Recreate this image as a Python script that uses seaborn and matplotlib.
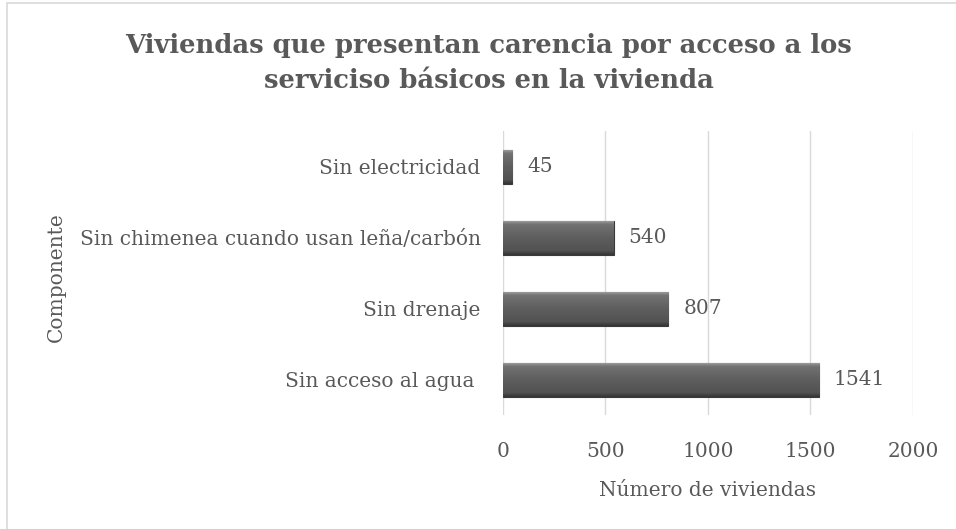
import numpy as np
import pandas as pd
import matplotlib
matplotlib.use("Agg")
import matplotlib.pyplot as plt
import seaborn as sns

# ─── Datos ────────────────────────────────────────────────────────────────────
componentes = ["Sin electricidad",
               "Sin chimenea cuando usan leña/carbón",
               "Sin drenaje",
               "Sin acceso al agua "]
viviendas = [45, 540, 807, 1541]
xticks = [0, 500, 1000, 1500, 2000]

df = pd.DataFrame({"Componente": componentes, "Viviendas": viviendas})

# ─── Estilo ───────────────────────────────────────────────────────────────────
sns.set_theme(style="white")
plt.rcParams["font.family"] = ["DejaVu Serif"]
GRIS = "#595959"
FS = 14.5

fig = plt.figure(figsize=(9.56, 5.29), dpi=100)
ax = fig.add_axes([0.526, 0.2146, 0.429, 0.537])

sns.barplot(data=df, x="Viviendas", y="Componente", ax=ax, orient="h",
            color="#5c5c5c", width=0.48, edgecolor="#3a3a3a", linewidth=0.8,
            zorder=3)

# Relleno degradado (efecto biselado)
grad = np.linspace(0, 1, 128).reshape(-1, 1)
cmap = matplotlib.colors.LinearSegmentedColormap.from_list(
    "bisel", [(0.0, "#a8a8a8"), (0.12, "#727272"), (0.5, "#5e5e5e"),
              (0.88, "#525252"), (1.0, "#333333")])
for p in ax.patches:
    x0, y0 = p.get_x(), p.get_y()
    w, h = p.get_width(), p.get_height()
    im = ax.imshow(grad, extent=[x0, x0 + w, y0 + h, y0], aspect="auto",
                   cmap=cmap, zorder=4, interpolation="bicubic")
    im.set_clip_path(p)

ax.set_xlim(0, 2000)
ax.set_ylim(3.5, -0.5)
ax.set_xticks(xticks)
ax.xaxis.grid(True, color="#d9d9d9", linewidth=1)
ax.set_axisbelow(True)
for s in ax.spines.values():
    s.set_visible(False)
ax.tick_params(axis="x", length=0, labelsize=FS, colors=GRIS, pad=19)
ax.tick_params(axis="y", length=0, labelsize=FS, colors=GRIS, pad=16)

for p, v in zip(ax.patches, viviendas):
    ax.text(p.get_x() + p.get_width() + 73, p.get_y() + p.get_height() / 2, str(v),
            va="center", ha="left", fontsize=FS, color=GRIS, zorder=5)

ax.set_xlabel("")
ax.set_ylabel("")
fig.text(0.740, 1 - 490 / 529, "Número de viviendas", ha="center", va="center",
         fontsize=FS, color=GRIS)
fig.text(0.059, 0.476, "Componente", rotation=90, va="center", ha="center",
         fontsize=FS, color=GRIS)

fig.text(0.511, 1 - 63 / 529,
         "Viviendas que presentan carencia por acceso a los\nserviciso básicos en la vivienda",
         fontsize=18.6, fontweight="bold", color=GRIS, ha="center", va="center",
         linespacing=1.5)

# Marco del gráfico
fig.patches.append(plt.Rectangle((0.007, -0.05), 1.1, 1.044, transform=fig.transFigure,
                                 fill=False, edgecolor="#d9d9d9", linewidth=1.2))

fig.savefig("out.png", dpi=100)
